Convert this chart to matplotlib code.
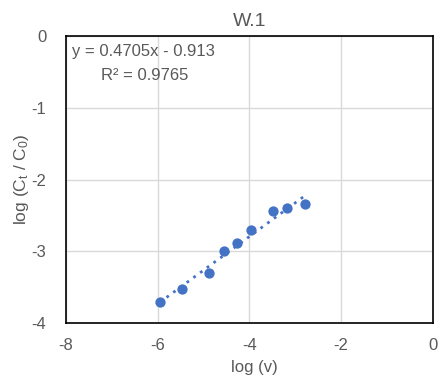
import numpy as np
import matplotlib.pyplot as plt

# data
log_v = [-5.95, -5.47, -4.87, -4.56, -4.27, -3.96, -3.49, -3.17, -2.79]
log_c = [-3.706, -3.524, -3.305, -2.999, -2.883, -2.706, -2.441, -2.399, -2.343]

# trendline as printed on the chart
slope = 0.4705
intercept = -0.913
r2 = 0.9765

blue = '#4472C4'
grey = '#595959'
plt.rcParams['font.family'] = ['Liberation Sans', 'DejaVu Sans']
plt.rcParams['axes.unicode_minus'] = False
plt.rcParams['mathtext.fontset'] = 'custom'
plt.rcParams['mathtext.rm'] = 'Liberation Sans'
plt.rcParams['mathtext.it'] = 'Liberation Sans:italic'

fig = plt.figure(figsize=(4.38, 3.76), dpi=100)
ax = fig.add_axes([0.150, 0.141, 0.8386, 0.763])

ax.scatter(log_v, log_c, s=55, color=blue, zorder=3, linewidths=0)
xs = np.array([min(log_v), max(log_v)])
ax.plot(xs, slope * xs + intercept, linestyle=(0, (1, 2)), color=blue,
        linewidth=2, zorder=2)

ax.set_xlim(-8, 0)
ax.set_ylim(-4, 0)
ax.set_xticks([-8, -6, -4, -2, 0])
ax.set_yticks([-4, -3, -2, -1, 0])
ax.grid(True, color='#d9d9d9', linewidth=1)
ax.set_axisbelow(True)
ax.tick_params(length=0, labelsize=12, labelcolor=grey)
ax.tick_params(axis='y', pad=14)
ax.tick_params(axis='x', pad=11)
for s in ax.spines.values():
    s.set_color('black')
    s.set_linewidth(1.2)

ax.set_title('W.1', fontsize=14, color=grey, pad=7)
fig.text(0.58, 0.022, 'log (v)', fontsize=12, color=grey,
         ha='center', va='center')
ax.set_ylabel(r'log (C$_\mathrm{t}$ / C$_\mathrm{0}$)', fontsize=12.5,
              color=grey, labelpad=0)

ax.text(0.016, 0.945, 'y = %.4fx - %.3f' % (slope, -intercept),
        transform=ax.transAxes, fontsize=12, color=grey, va='center')
ax.text(0.095, 0.862, 'R² = %.4f' % r2,
        transform=ax.transAxes, fontsize=12, color=grey, va='center')

fig.savefig('out.png', dpi=100)
